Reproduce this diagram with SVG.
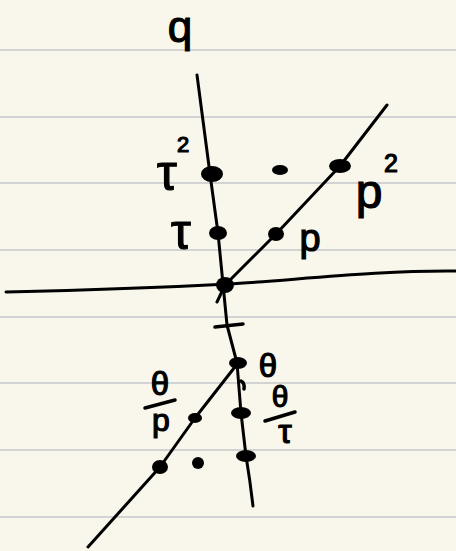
<svg xmlns="http://www.w3.org/2000/svg" width="456" height="551" viewBox="0 0 456 551">
  <style>
    .rule { stroke: #d3d3d3; stroke-width: 2; }
    .axis { fill: none; stroke: #000; stroke-width: 3; stroke-linecap: round; stroke-linejoin: round; }
    .mark { fill: none; stroke: #000; stroke-width: 3.5; stroke-linecap: round; }
    .dot { fill: #000; }
    .lbl { font-family: "Liberation Sans", Arial, sans-serif; fill: #000; stroke: #000; stroke-width: 1.2; text-anchor: middle; }
  </style>
  <rect x="0" y="0" width="456" height="551" fill="#f9f7ec"/>
  <g id="ruling">
    <line class="rule" x1="0" y1="50" x2="456" y2="50"/>
    <line class="rule" x1="0" y1="117" x2="456" y2="117"/>
    <line class="rule" x1="0" y1="183" x2="456" y2="183"/>
    <line class="rule" x1="0" y1="250" x2="456" y2="250"/>
    <line class="rule" x1="0" y1="317" x2="456" y2="317"/>
    <line class="rule" x1="0" y1="383" x2="456" y2="383"/>
    <line class="rule" x1="0" y1="450" x2="456" y2="450"/>
    <line class="rule" x1="0" y1="517" x2="456" y2="517"/>
  </g>
  <g id="connectors">
    <path class="axis" d="M197,75 L210,174 L218,233 L223,284 L227,325 L237,363 L241,413 L246,456 Q250,480 253,506"/>
    <path class="axis" d="M6,292 C90,290 170,287 228,284 S380,270 456,271"/>
    <path class="axis" d="M387,105 L340,166 L276,234 L225,285 L217,302"/>
    <path class="axis" d="M238,363 L195,418 L160,467 L88,547"/>
  </g>
  <g id="axis-label-q">
    <text class="lbl" x="180" y="42" font-size="44">q</text>
  </g>
  <g id="node-origin">
    <ellipse class="dot" cx="225" cy="285" rx="9" ry="8"/>
  </g>
  <g id="node-tau2">
    <ellipse class="dot" cx="212" cy="174" rx="11" ry="8"/>
    <text class="lbl" x="167" y="190" font-size="50">τ</text>
    <text class="lbl" x="183" y="152" font-size="22">2</text>
  </g>
  <g id="node-tau">
    <ellipse class="dot" cx="218" cy="233" rx="9" ry="7"/>
    <text class="lbl" x="181" y="249" font-size="50">τ</text>
  </g>
  <g id="node-p">
    <ellipse class="dot" cx="276" cy="234" rx="8" ry="7"/>
    <text class="lbl" x="310" y="251" font-size="38">p</text>
  </g>
  <g id="node-p2">
    <ellipse class="dot" cx="340" cy="166" rx="11" ry="7"/>
    <text class="lbl" x="369" y="208" font-size="48">p</text>
    <text class="lbl" x="391" y="172" font-size="25">2</text>
  </g>
  <g id="node-product">
    <ellipse class="dot" cx="280" cy="170" rx="8" ry="5"/>
  </g>
  <g id="tick">
    <path class="mark" d="M215,327 L243,324"/>
  </g>
  <g id="node-theta">
    <ellipse class="dot" cx="238" cy="363" rx="9" ry="6"/>
    <text class="lbl" x="268" y="377" font-size="33">θ</text>
  </g>
  <g id="comma-mark">
    <path class="mark" d="M241,381 Q245,383 244,389" stroke-width="2.5"/>
  </g>
  <g id="node-theta-over-tau">
    <ellipse class="dot" cx="241" cy="413" rx="10" ry="6"/>
    <text class="lbl" x="280" y="407" font-size="30">θ</text>
    <path class="mark" d="M265,421 L295,412"/>
    <text class="lbl" x="285" y="443" font-size="34">τ</text>
  </g>
  <g id="node-lower-tau">
    <ellipse class="dot" cx="246" cy="456" rx="10" ry="6"/>
  </g>
  <g id="node-theta-over-p">
    <ellipse class="dot" cx="195" cy="418" rx="7" ry="5"/>
    <text class="lbl" x="160" y="395" font-size="33">θ</text>
    <path class="mark" d="M145,408 L175,400"/>
    <text class="lbl" x="161" y="431" font-size="32">p</text>
  </g>
  <g id="node-lower-p">
    <ellipse class="dot" cx="160" cy="467" rx="8" ry="7"/>
  </g>
  <g id="node-lower-product">
    <ellipse class="dot" cx="198" cy="463" rx="6" ry="6"/>
  </g>
</svg>
